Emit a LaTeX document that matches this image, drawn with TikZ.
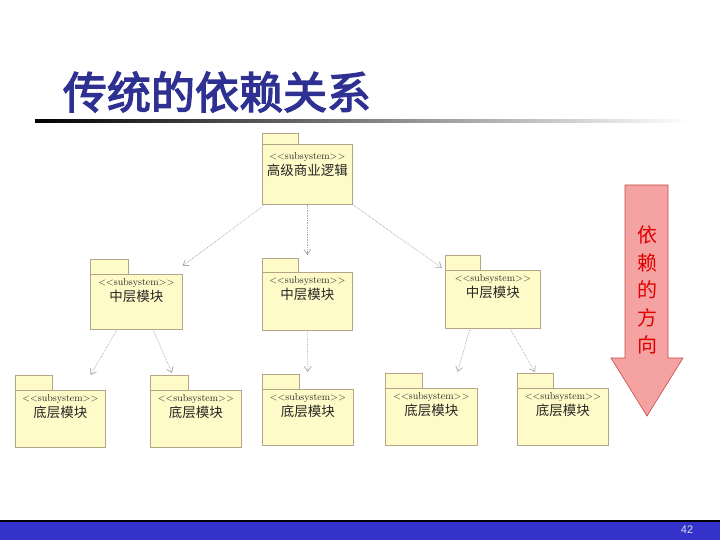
\documentclass[tikz,border=0pt]{standalone}
\usepackage{fontspec}
\setsansfont{Liberation Sans}
\newfontfamily\cjk{Noto Sans CJK SC}
\newfontfamily\cjktitle{Noto Sans CJK SC}[FakeBold=3]
\usetikzlibrary{positioning, arrows.meta, calc}
\definecolor{cTitle}{HTML}{2E3192}
\definecolor{cPkg}{HTML}{FFFBC8}
\definecolor{cPkgEdge}{HTML}{B4A488}
\definecolor{cDep}{HTML}{A8A8A8}
\definecolor{cArrow}{HTML}{F4A2A2}
\definecolor{cArrowDk}{HTML}{C84848}
\definecolor{cDirText}{HTML}{E00000}
\definecolor{cBar}{HTML}{3333CC}
\tikzset{
  pkg/.style={
    rectangle, draw=cPkgEdge, fill=cPkg, line width=0.6pt, anchor=north west,
    inner sep=0pt, minimum width=90pt, minimum height=57pt
  },
  pkgtext/.style={
    anchor=north, align=center, inner sep=1pt, text=black!85,
    font=\fontsize{10}{16}\selectfont
  },
  dep/.style={-{Straight Barb[length=5pt, width=7pt]}, cDep, line width=0.7pt, densely dotted},
}
% folder tab on top of a package body: node, tab width, tab height
\newcommand\pkgtab[3]{%
  \fill[cPkg] ([shift={(0.3pt,-0.4pt)}]#1.north west) rectangle ++(#2-0.6,-#3-0.4);
  \draw[cPkgEdge, line width=0.6pt] (#1.north west) -- ++(0,-#3) -- ++(#2,0) -- ++(0,#3);
}
\newcommand\stereo{\textless\kern0pt\textless\kern0pt subsystem\textgreater\kern0pt\textgreater}
\newcommand\pkgfont{\cjk\fontsize{13.5}{16}\selectfont}

\begin{document}
\begin{tikzpicture}[x=1pt, y=-1pt]
  \path[use as bounding box, fill=white] (0,0) rectangle (720,540);

  \node[font=\cjktitle\fontsize{44}{44}\selectfont, text=cTitle, inner sep=0pt] (title)
    at (217,92) {传统的依赖关系};
  \shade[left color=black, right color=white] (35,119.5) rectangle (690,122.5);

  % packages
  \node[pkg, minimum height=60pt] (top) at (262,144) {};
  \pkgtab{top}{36}{11}
  \node[pkg, minimum width=92pt, minimum height=55pt] (midL) at (90,274) {};
  \pkgtab{midL}{38}{15}
  \node[pkg, minimum height=58pt] (midC) at (262,272) {};
  \pkgtab{midC}{36}{14}
  \node[pkg, minimum width=95pt, minimum height=58pt] (midR) at (445,270) {};
  \pkgtab{midR}{35}{15}
  \node[pkg] (botA) at (15,390) {};
  \pkgtab{botA}{37}{15}
  \node[pkg, minimum width=91pt] (botB) at (150,390) {};
  \pkgtab{botB}{38}{15}
  \node[pkg, minimum width=91pt, minimum height=56pt] (botC) at (262,389) {};
  \pkgtab{botC}{37}{15}
  \node[pkg, minimum width=92pt] (botD) at (385,388) {};
  \pkgtab{botD}{37}{15}
  \node[pkg, minimum width=91pt] (botE) at (517,388) {};
  \pkgtab{botE}{36}{15}

  \node[pkgtext, below=7pt of top.north] (topT) {\stereo\\{\pkgfont 高级商业逻辑}};
  \foreach \p in {midL, midC, midR}
    \node[pkgtext, below=3pt of \p.north] (\p T) {\stereo\\{\pkgfont 中层模块}};
  \foreach \p in {botA, botB, botC, botD, botE}
    \node[pkgtext, below=3pt of \p.north] (\p T) {\stereo\\{\pkgfont 底层模块}};

  % dependencies
  \draw[dep] ([xshift=3pt]top.south west) -- ([yshift=8pt]midL.north east);
  \draw[dep] (top.south) -- ([yshift=17pt]midC.north);
  \draw[dep] (top.south east) -- ([shift={(-3pt,2pt)}]midR.north west);
  \draw[dep] ([xshift=27pt]midL.south west) -- ([shift={(-15pt,15pt)}]botA.north east);
  \draw[dep] ([xshift=63pt]midL.south west) -- ([shift={(22pt,17pt)}]botB.north west);
  \draw[dep] (midC.south) -- ([yshift=17pt]botC.north);
  \draw[dep] ([xshift=25pt]midR.south west) -- ([shift={(-20pt,16pt)}]botD.north east);
  \draw[dep] ([xshift=65pt]midR.south west) -- ([shift={(18pt,16pt)}]botE.north west);

  % direction arrow
  \draw[cArrowDk, line width=0.6pt, fill=cArrow]
    (625,185) -- (668,185) -- (668,358) -- (683,358) -- (647,416)
    -- (611,358) -- (625,358) -- cycle;
  \node[text=cDirText, font=\cjk\fontsize{20}{27.5}\selectfont, align=center, inner sep=0pt] (dir)
    at (647,290) {依\\赖\\的\\方\\向};

  % footer
  \fill[cBar] (0,521) rectangle (720,540);
  \draw[black, line width=1.2pt] (0,521) -- (720,521);
  \node[font=\sffamily\fontsize{11}{11}\selectfont, text=white!85!black, inner sep=0pt] (page)
    at (687,530) {42};
\end{tikzpicture}
\end{document}
